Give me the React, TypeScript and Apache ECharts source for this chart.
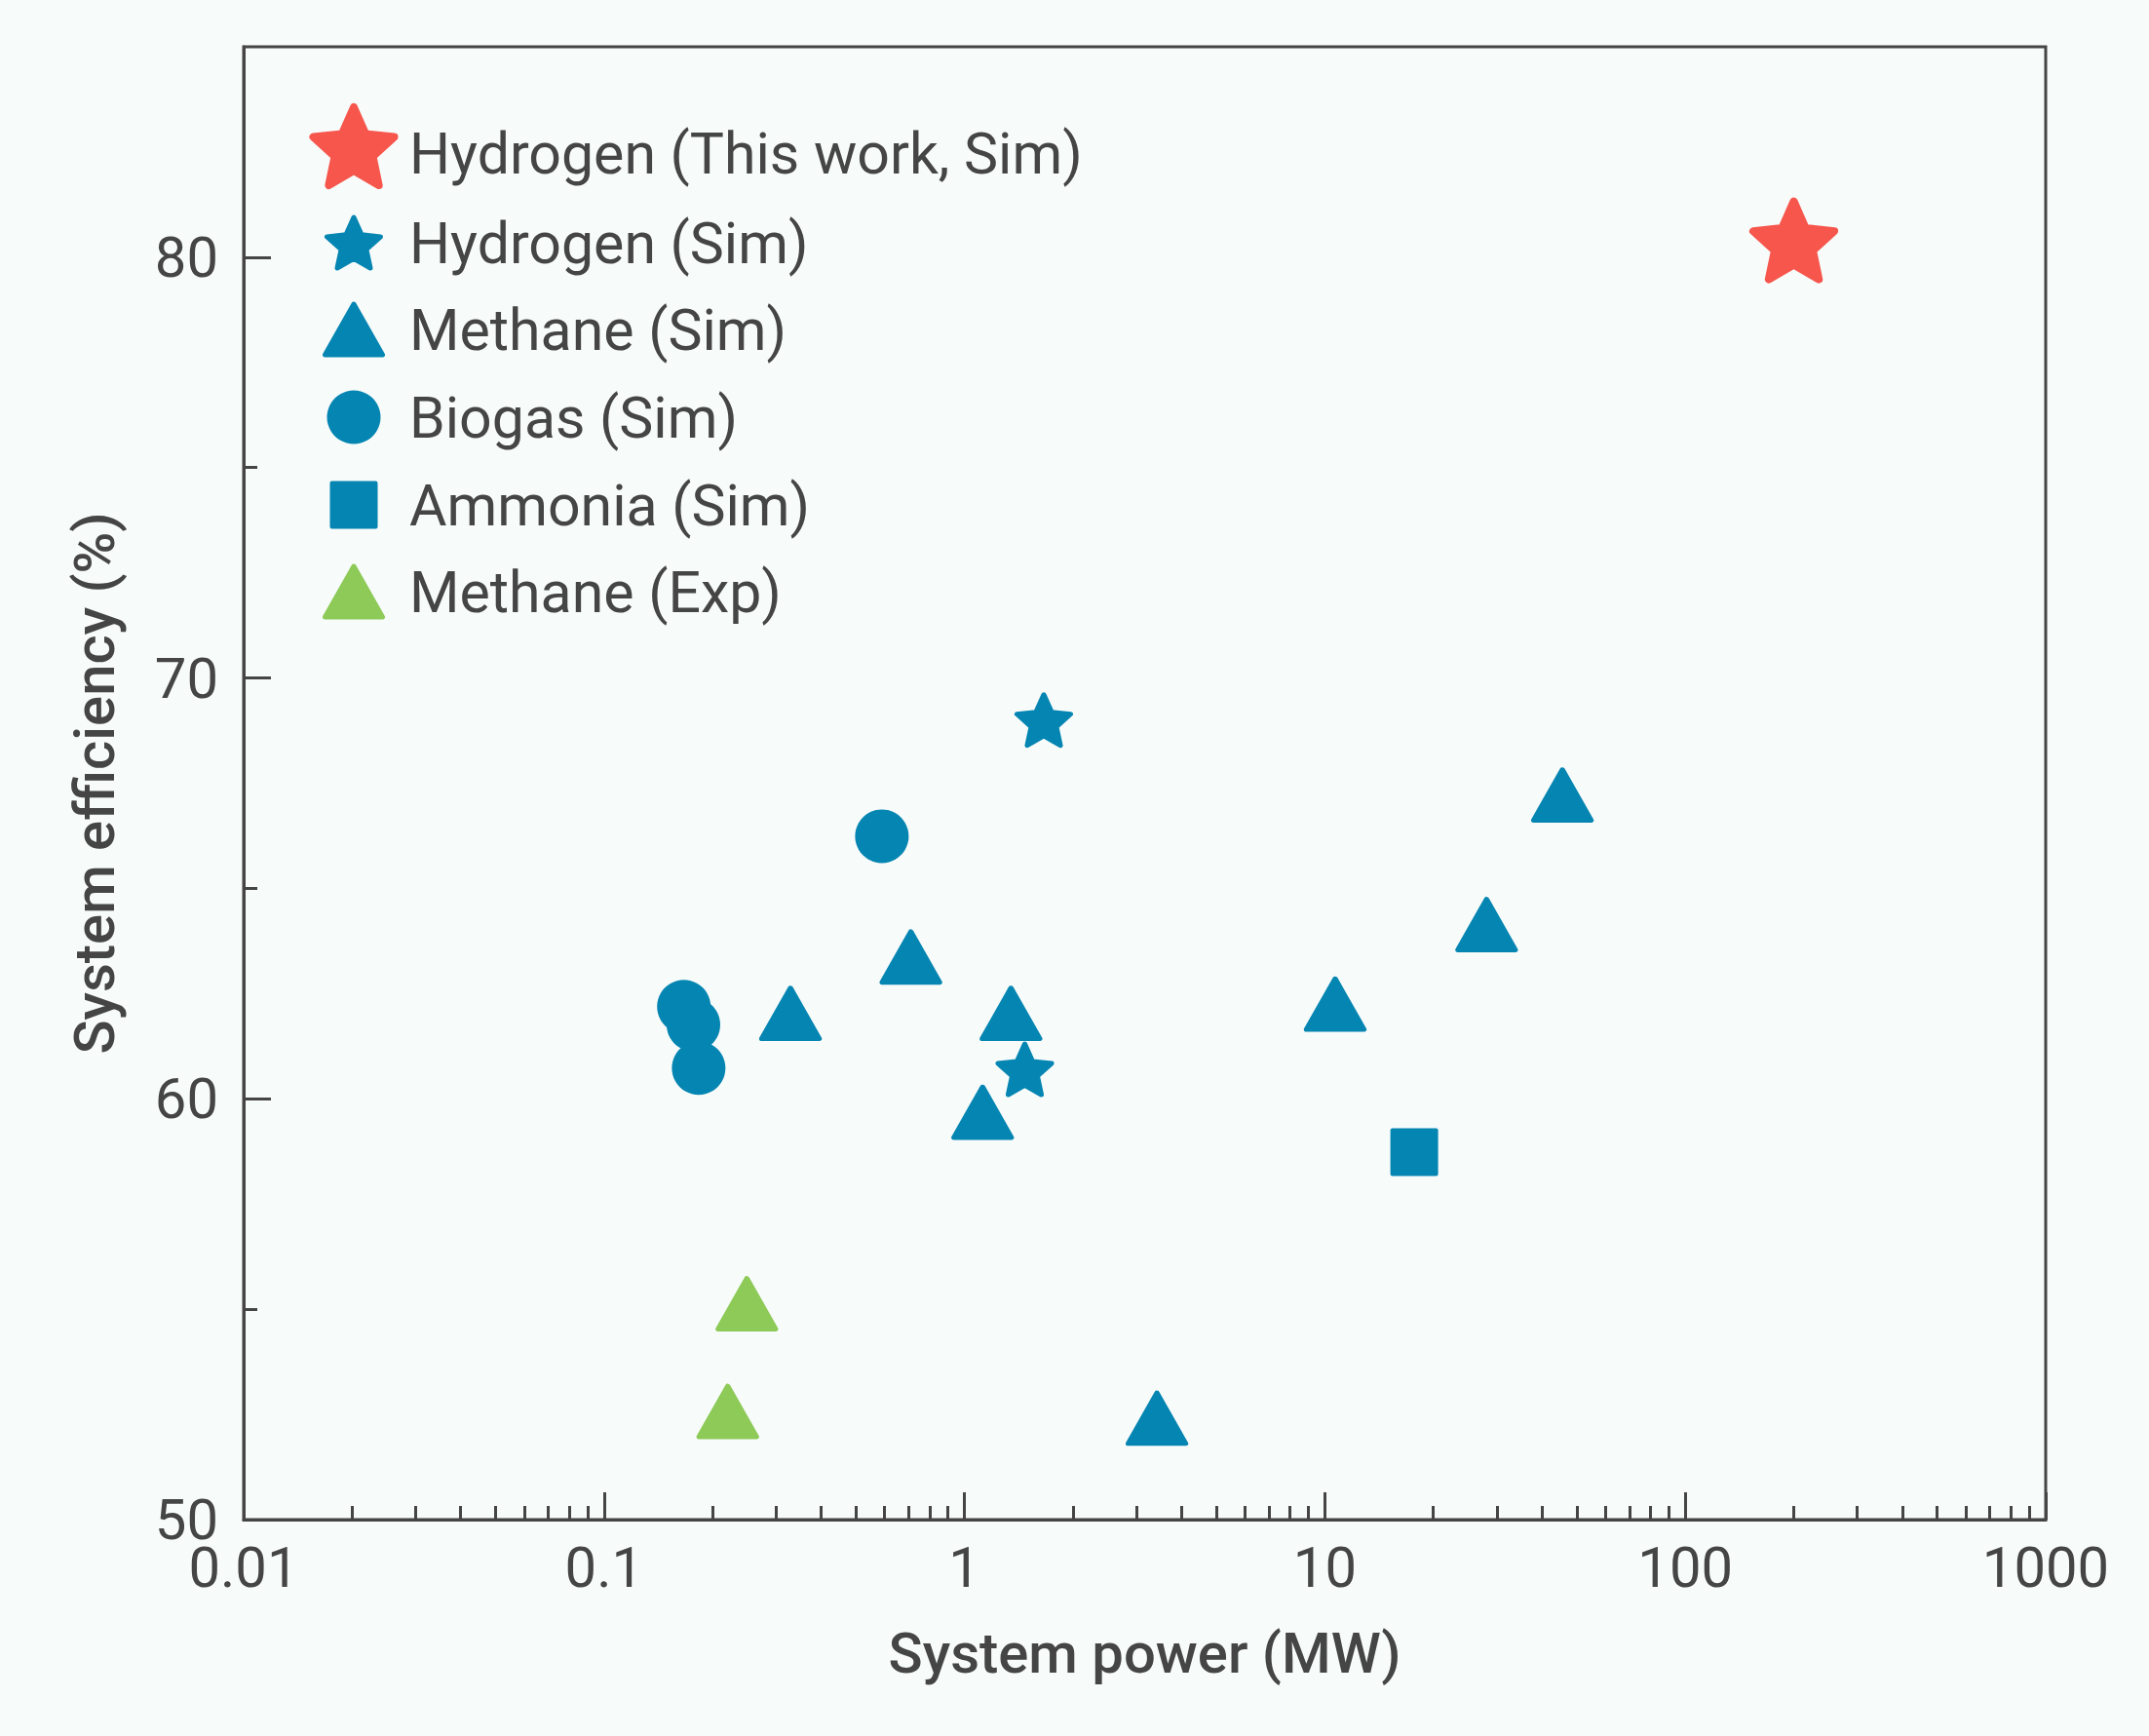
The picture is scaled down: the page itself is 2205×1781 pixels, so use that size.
import React, { useEffect, useRef } from 'react';
import * as echarts from 'echarts';

const W = 2205;
const H = 1781;

const seriesNames = [
  'Hydrogen (This work, Sim)',
  'Hydrogen (Sim)',
  'Methane (Sim)',
  'Biogas (Sim)',
  'Ammonia (Sim)',
  'Methane (Exp)',
];

// [system power (MW), system efficiency (%)]
const hydrogenThisWork = [[200, 80.4]];
const hydrogenSim = [
  [1.66, 69.0],
  [1.47, 60.7],
];
const methaneSim = [
  [0.329, 62.03],
  [0.71, 63.37],
  [1.346, 62.03],
  [1.123, 59.68],
  [3.42, 52.41],
  [10.68, 62.25],
  [28.1, 64.14],
  [45.6, 67.22],
];
const biogasSim = [
  [0.59, 66.24],
  [0.1665, 62.19],
  [0.177, 61.76],
  [0.183, 60.73],
];
const ammoniaSim = [[17.7, 58.73]];
const methaneExp = [
  [0.249, 55.13],
  [0.2204, 52.57],
];

const xMajorTicks = [0.01, 0.1, 1, 10, 100, 1000];
const xMinorTicks = [
  0.02, 0.03, 0.04, 0.05, 0.06, 0.07, 0.08, 0.09,
  0.2, 0.3, 0.4, 0.5, 0.6, 0.7, 0.8, 0.9,
  2, 3, 4, 5, 6, 7, 8, 9,
  20, 30, 40, 50, 60, 70, 80, 90,
  200, 300, 400, 500, 600, 700, 800, 900,
];
const yMajorTicks = [50, 60, 70, 80];
const yMinorTicks = [55, 65, 75];

const FONT = 'Roboto';
const TEXT = '#454545';
const AXIS = '#454545';
const BLUE = '#0585b2';
const RED = '#f6564c';
const GREEN = '#8dca58';
const BG = '#f7fbfa';

function starPoints(r0: number) {
  const pts: string[] = [];
  for (let i = 0; i < 10; i++) {
    const a = (-90 + i * 36) * (Math.PI / 180);
    const r = i % 2 === 0 ? 1 : r0;
    pts.push(`${(r * Math.cos(a)).toFixed(4)} ${(r * Math.sin(a)).toFixed(4)}`);
  }
  return 'M' + pts.join(' L') + ' Z';
}
const STAR_D = starPoints(0.47);
const STAR = 'path://' + STAR_D;
// legend icon: same star, with an empty move-to below it so that the star
// sits a little above the middle of the legend row
const STAR_LEGEND = 'path://' + STAR_D + ' M0 1.1256';

type Def = {
  name: string;
  data: number[][];
  symbol: string;
  legendIcon: string;
  size: [number, number];
  legendSize: [number, number];
  color: string;
  bw: number;
  iconY: number;
};

const defs: Def[] = [
  { name: seriesNames[0], data: hydrogenThisWork, symbol: STAR, legendIcon: STAR_LEGEND, size: [83, 80], legendSize: [83, 94], color: RED, bw: 8, iconY: 157 },
  { name: seriesNames[1], data: hydrogenSim, symbol: STAR, legendIcon: STAR, size: [55, 52], legendSize: [55, 52], color: BLUE, bw: 5, iconY: 249 },
  { name: seriesNames[2], data: methaneSim, symbol: 'triangle', legendIcon: 'triangle', size: [59, 52], legendSize: [59, 52], color: BLUE, bw: 5, iconY: 338 },
  { name: seriesNames[3], data: biogasSim, symbol: 'circle', legendIcon: 'circle', size: [55, 55], legendSize: [55, 55], color: BLUE, bw: 0, iconY: 428 },
  { name: seriesNames[4], data: ammoniaSim, symbol: 'rect', legendIcon: 'rect', size: [45, 45], legendSize: [45, 45], color: BLUE, bw: 4, iconY: 518 },
  { name: seriesNames[5], data: methaneExp, symbol: 'triangle', legendIcon: 'triangle', size: [59, 52], legendSize: [59, 52], color: GREEN, bw: 5, iconY: 607 },
];

const ICON_X = 363;
const TEXT_X = 420;
const LINE_H = 70;

function fmtX(v: number) {
  return String(Number(Number(v).toPrecision(6)));
}

function buildOption() {
  const legends = defs.map((d) => {
    const w = d.legendSize[0];
    const h = d.legendSize[1];
    const unionTop = Math.min(-d.bw / 2, h / 2 - LINE_H / 2);
    const top = d.iconY - (h / 2 - unionTop);
    const left = ICON_X - w / 2 - d.bw / 2;
    const padLeft = TEXT_X - (ICON_X + w / 2 + 5);
    return {
      show: true,
      data: [{ name: d.name, icon: d.legendIcon }],
      selectedMode: false,
      orient: 'horizontal',
      padding: 0,
      left,
      top,
      itemWidth: w,
      itemHeight: h,
      symbolKeepAspect: false,
      itemStyle: { borderWidth: d.bw, borderColor: d.color, borderJoin: 'round' },
      textStyle: {
        fontFamily: FONT,
        fontSize: 59,
        color: TEXT,
        lineHeight: LINE_H,
        padding: [0, 0, 0, padLeft],
      },
    };
  });

  const series = defs.map((d) => ({
    type: 'scatter',
    name: d.name,
    data: d.data,
    xAxisIndex: 0,
    yAxisIndex: 0,
    symbol: d.symbol,
    symbolSize: d.size,
    itemStyle: {
      color: d.color,
      opacity: 1,
      borderColor: d.color,
      borderWidth: d.bw,
      borderJoin: 'round',
    },
    emphasis: { disabled: true },
  }));

  const axisLabelStyle = { fontFamily: FONT, fontSize: 58, color: TEXT };
  const nameStyle = { fontFamily: FONT, fontSize: 58, fontWeight: 500, color: TEXT };

  return {
    animation: false,
    backgroundColor: BG,
    grid: {
      left: 250,
      right: 106,
      top: 48,
      bottom: 222,
      show: true,
      borderColor: AXIS,
      borderWidth: 3,
      backgroundColor: 'transparent',
    },
    legend: legends,
    xAxis: [
      {
        type: 'log',
        logBase: 10,
        min: 0.01,
        max: 1000,
        position: 'bottom',
        name: 'System power (MW)',
        nameLocation: 'middle',
        nameGap: 108,
        nameTextStyle: nameStyle,
        axisLine: { show: true, lineStyle: { color: AXIS, width: 3 } },
        axisTick: { show: true, inside: true, length: 28, lineStyle: { color: AXIS, width: 3 }, customValues: xMajorTicks },
        axisLabel: { show: true, margin: 20, ...axisLabelStyle, customValues: xMajorTicks, formatter: (v: number) => fmtX(v) },
        splitLine: { show: false },
        minorTick: { show: false },
      },
      {
        type: 'log',
        logBase: 10,
        min: 0.01,
        max: 1000,
        position: 'bottom',
        axisLine: { show: false },
        axisTick: { show: true, inside: true, length: 14, lineStyle: { color: AXIS, width: 3 }, customValues: xMinorTicks },
        axisLabel: { show: false },
        splitLine: { show: false },
      },
    ],
    yAxis: [
      {
        type: 'value',
        min: 50,
        max: 85,
        interval: 10,
        position: 'left',
        name: 'System efficiency (%)',
        nameLocation: 'middle',
        nameGap: 124,
        nameTextStyle: nameStyle,
        axisLine: { show: true, lineStyle: { color: AXIS, width: 3 } },
        axisTick: { show: true, inside: true, length: 28, lineStyle: { color: AXIS, width: 3 }, customValues: yMajorTicks },
        axisLabel: { show: true, margin: 26, ...axisLabelStyle, customValues: yMajorTicks },
        splitLine: { show: false },
      },
      {
        type: 'value',
        min: 50,
        max: 85,
        interval: 5,
        position: 'left',
        axisLine: { show: false },
        axisTick: { show: true, inside: true, length: 14, lineStyle: { color: AXIS, width: 3 }, customValues: yMinorTicks },
        axisLabel: { show: false },
        splitLine: { show: false },
      },
    ],
    series,
  };
}

export default function App() {
  const ref = useRef<HTMLDivElement>(null);
  useEffect(() => {
    document.body.style.margin = '0';
    document.body.style.background = BG;
    const el = ref.current as HTMLDivElement;
    const chart = echarts.init(el, null, { renderer: 'svg', width: W, height: H });
    chart.setOption(buildOption() as any);
    return () => {
      chart.dispose();
    };
  }, []);
  return <div ref={ref} style={{ width: W, height: H }} />;
}
